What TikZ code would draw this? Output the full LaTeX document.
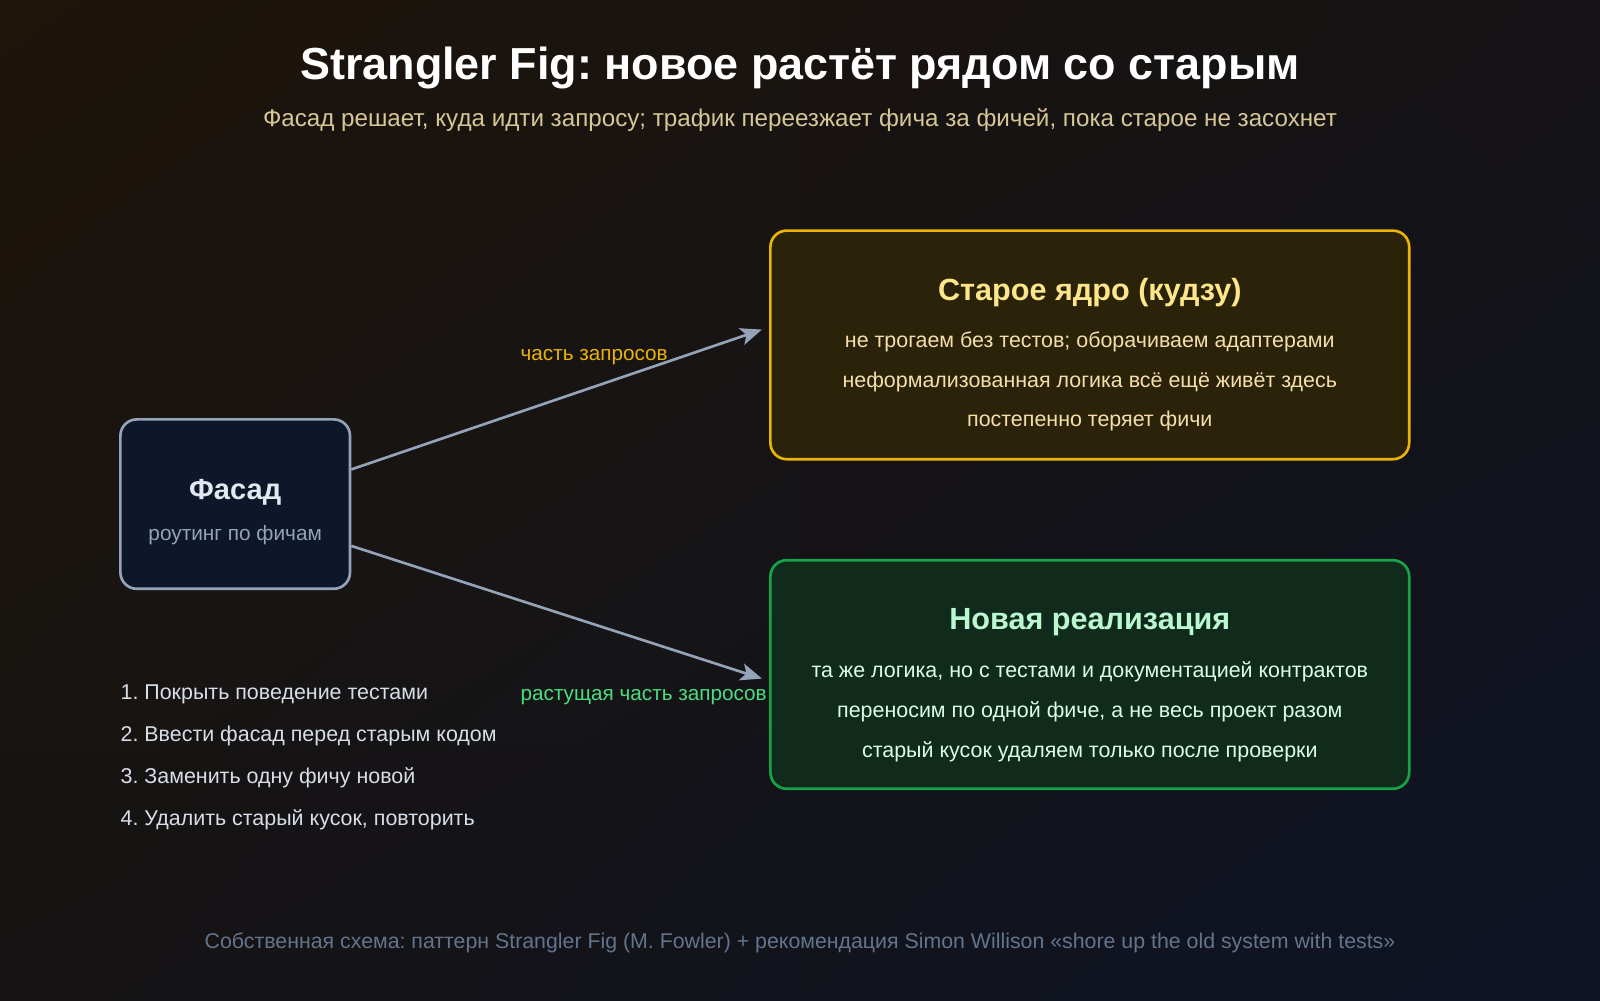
\documentclass[tikz,border=0pt]{standalone}
\usepackage{fontspec}
\setmainfont{Liberation Sans}
\usepackage{xcolor}
\usepackage{tikz}
\usetikzlibrary{arrows.meta, positioning, calc, shadings}

\definecolor{bgtl}{RGB}{30,21,11}
\definecolor{bgtr}{RGB}{20,18,20}
\definecolor{bgbl}{RGB}{21,19,19}
\definecolor{bgbr}{RGB}{14,20,38}
\definecolor{subtan}{RGB}{214,199,150}
\definecolor{slateline}{RGB}{148,163,184}
\definecolor{facadefill}{RGB}{14,23,42}
\definecolor{facadetext}{RGB}{226,232,240}
\definecolor{oldline}{RGB}{234,179,8}
\definecolor{oldfill}{RGB}{42,35,10}
\definecolor{oldtitle}{RGB}{253,230,138}
\definecolor{oldbody}{RGB}{245,222,170}
\definecolor{newline}{RGB}{22,163,74}
\definecolor{newfill}{RGB}{16,42,28}
\definecolor{newtitle}{RGB}{187,247,208}
\definecolor{newbody}{RGB}{220,252,231}
\definecolor{greenlabel}{RGB}{74,222,128}
\definecolor{listtext}{RGB}{215,222,232}
\definecolor{footgray}{RGB}{100,116,139}

\newcommand{\setfs}[1]{\fontsize{#1}{#1}\selectfont}
\frenchspacing

\begin{document}
\begin{tikzpicture}[x=1pt, y=-1pt,
    box/.style={draw, line width=2.6pt, rounded corners=16pt, inner sep=0pt, minimum width=626pt, minimum height=224pt},
    flow/.style={draw=slateline, line width=2.6pt, -{Stealth[length=21pt,width=17pt,inset=5pt]}},
    boxhead/.style={font=\setfs{30}\bfseries},
    boxline/.style={font=\setfs{21}},
    steptxt/.style={anchor=west, inner sep=0pt, font=\setfs{21}, text=listtext},
    flowlabel/.style={anchor=west, inner sep=0pt, font=\setfs{20.3}}]

    % background
    \shade[upper left=bgtl, upper right=bgtr, lower left=bgbl, lower right=bgbr] (0,0) rectangle (1568,980);
    \useasboundingbox (0,0) rectangle (1568,980);

    % heading
    \node[font=\setfs{44}\bfseries, text=white] (title) at (784,67) {Strangler Fig: новое растёт рядом со старым};
    \node[font=\setfs{23.7}, text=subtan] (subtitle) at (784,118) {Фасад решает, куда идти запросу; трафик переезжает фича за фичей, пока старое не засохнет};

    % facade
    \node[box, draw=slateline, fill=facadefill, minimum width=225pt, minimum height=166pt] (facade) at (230.5,494) {};
    \node[font=\setfs{28.5}\bfseries, text=facadetext] (facadehead) at (230.5,482) {Фасад};
    \node[font=\setfs{20.4}, text=slateline] (facadesub) at (230.5,524) {роутинг по фичам};

    % old core
    \node[box, draw=oldline, fill=oldfill] (oldcore) at (1068,338) {};
    \node[boxhead, text=oldtitle] (oldhead) at (1068,287) {Старое ядро (кудзу)};
    \node[boxline, text=oldbody] (old1) at (1068,335) {не трогаем без тестов; оборачиваем адаптерами};
    \node[boxline, text=oldbody] (old2) at (1068,374) {неформализованная логика всё ещё живёт здесь};
    \node[boxline, text=oldbody] (old3) at (1068,413) {постепенно теряет фичи};

    % new implementation
    \node[box, draw=newline, fill=newfill] (newimpl) at (1068,661) {};
    \node[boxhead, text=newtitle] (newhead) at (1068,610) {Новая реализация};
    \node[boxline, text=newbody] (new1) at (1068,658) {та же логика, но с тестами и документацией контрактов};
    \node[boxline, text=newbody] (new2) at (1068,698) {переносим по одной фиче, а не весь проект разом};
    \node[boxline, text=newbody] (new3) at (1068,737) {старый кусок удаляем только после проверки};

    % routing
    \draw[flow] ([yshift=34pt]facade.east) -- ([xshift=-7pt,yshift=15pt]oldcore.west);
    \draw[flow] ([yshift=-41pt]facade.east) -- ([xshift=-7pt,yshift=-4pt]newimpl.west);
    \node[flowlabel, text=oldline] (oldlabel) at (510,350) {часть запросов};
    \node[flowlabel, text=greenlabel] (newlabel) at (510,683) {растущая часть запросов};

    % steps
    \foreach \n/\y/\txt in {1/680/Покрыть поведение тестами, 2/721/Ввести фасад перед старым кодом, 3/762/Заменить одну фичу новой, 4/803/{Удалить старый кусок, повторить}} {
        \node[steptxt] (step\n) at (118,\y) {\n. \txt};
    }

    \node[font=\setfs{20.9}, text=footgray] (footer) at (784,924) {Собственная схема: паттерн Strangler Fig (M. Fowler) + рекомендация Simon Willison «shore up the old system with tests»};

\end{tikzpicture}
\end{document}
